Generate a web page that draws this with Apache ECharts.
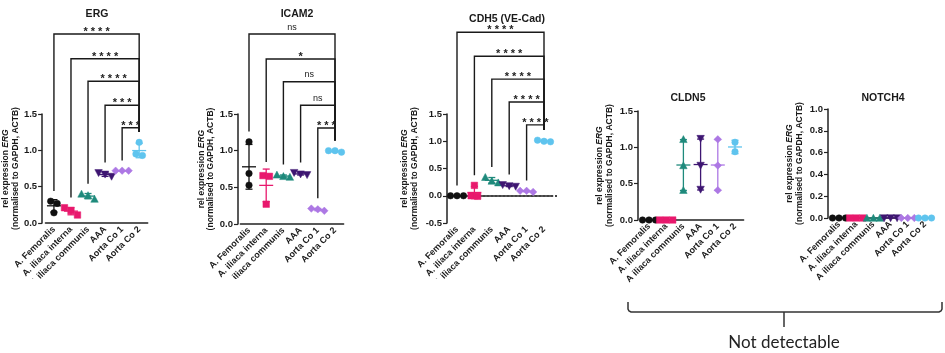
<!DOCTYPE html>
<html>
<head>
<meta charset="utf-8">
<script src="https://cdn.jsdelivr.net/npm/echarts@6/dist/echarts.min.js"></script>
<style>
  html, body { margin: 0; background: #fff; }
  #main { width: 945px; height: 353px; }
</style>
</head>
<body>
<div id="main"></div>
<script>
// groups on every x axis
const groups = ['A. Femoralis', 'A. iliaca interna', 'A iliaca communis', 'AAA', 'Aorta Co 1', 'Aorta Co 2'];

// replicate values per group (rel expression)
const ergValues = [[0.30, 0.27, 0.14], [0.21, 0.17, 0.11], [0.40, 0.38, 0.33], [0.69, 0.67, 0.64], [0.72, 0.72, 0.72], [1.11, 0.95, 0.93]];
const icam2Values = [[1.12, 0.69, 0.53], [0.66, 0.65, 0.27], [0.67, 0.65, 0.64], [0.70, 0.68, 0.67], [0.21, 0.20, 0.18], [1.00, 1.00, 0.98]];
const cdh5Values = [[0, 0, 0], [0.19, 0.0, -0.01], [0.34, 0.27, 0.24], [0.20, 0.18, 0.17], [0.09, 0.09, 0.07], [1.02, 1.00, 0.99]];
const cldn5Values = [[0, 0, 0], [0, 0, 0], [1.11, 0.75, 0.41], [1.12, 0.75, 0.42], [1.11, 0.75, 0.41], [1.07, 0.94]];
const notch4Values = [[0, 0, 0], [0, 0, 0], [0, 0, 0], [0, 0, 0], [0, 0, 0], [0, 0, 0]];

// comparisons against Aorta Co 2: [from group, bracket level, significance]
const ergStats = [[0, 2.60, '****'], [1, 2.26, '****'], [2, 1.95, '****'], [3, 1.62, '***'], [4, 1.31, '***']];
const icam2Stats = [[0, 2.59, 'ns'], [1, 2.25, '*'], [2, 1.94, 'ns'], [3, 1.62, 'ns'], [4, 1.31, '***']];
const cdh5Stats = [[0, 3.00, '****'], [1, 2.56, '****'], [2, 2.14, '****'], [3, 1.72, '****'], [4, 1.30, '****']];

const groupColors = ['#111111', '#e8196d', '#1f8a7c', '#3e1672', '#ad78e4', '#5fc4ee'];
const groupSymbols = ['circle', 'square', 'triangle', 'triangleDown', 'diamond', 'circle'];
const FONT = '"Liberation Sans", Arial, sans-serif';
const SYM = 6.5; // marker size
const GAP = 7;   // gap between data and bracket legs

const panels = [
  {title: 'ERG', values: ergValues, stats: ergStats, min: 0, max: 1.5, interval: 0.5,
   left: 43.3, width: 104.4, top: 114, height: 109, offset: 3.3, nameGap: 21, tx: 92, ty: 4},
  {title: 'ICAM2', values: icam2Values, stats: icam2Stats, min: 0, max: 1.5, interval: 0.5,
   left: 240.4, width: 103.2, top: 114, height: 110, offset: 2.4, nameGap: 20, tx: 292, ty: 4},
  {title: 'CDH5 (VE-Cad)', values: cdh5Values, stats: cdh5Stats, min: -0.5, max: 1.5, interval: 0.5,
   left: 448.3, width: 104.4, top: 114, height: 109, offset: 1.3, nameGap: 28, tx: 502, ty: 9, zeroLine: true},
  {title: 'CLDN5', values: cldn5Values, stats: [], min: 0, max: 1.5, interval: 0.5,
   left: 640.4, width: 103.2, top: 111, height: 109, offset: 2.4, nameGap: 24, tx: 683, ty: 88},
  {title: 'NOTCH4', values: notch4Values, stats: [], min: 0, max: 1.0, interval: 0.2,
   left: 830.4, width: 103.2, top: 109, height: 109, offset: 2.4, nameGap: 24, tx: 878, ty: 88}
];

function meanSd(vals) {
  const m = vals.reduce((a, b) => a + b, 0) / vals.length;
  const v = vals.length > 1 ? vals.reduce((a, b) => a + (b - m) * (b - m), 0) / (vals.length - 1) : 0;
  return {mean: m, sd: Math.sqrt(v)};
}

function marker(kind, x, y, color) {
  const r = SYM / 2;
  const style = {fill: color, stroke: color, lineWidth: 0.5};
  if (kind === 'circle') return {type: 'circle', shape: {cx: x, cy: y, r: r}, style};
  if (kind === 'square') return {type: 'rect', shape: {x: x - r, y: y - r, width: SYM, height: SYM}, style};
  let pts;
  if (kind === 'triangle') pts = [[x, y - r - 0.5], [x + r + 0.5, y + r], [x - r - 0.5, y + r]];
  else if (kind === 'triangleDown') pts = [[x - r - 0.5, y - r], [x + r + 0.5, y - r], [x, y + r + 0.5]];
  else pts = [[x, y - r - 0.5], [x + r + 0.5, y], [x, y + r + 0.5], [x - r - 0.5, y]];
  return {type: 'polygon', shape: {points: pts}, style};
}

// top of a group's marks in pixels (points or SD whisker)
function groupTop(api, values, i) {
  const s = meanSd(values[i]);
  const ys = values[i].map(v => api.coord([i, v])[1] - SYM / 2);
  ys.push(api.coord([i, s.mean + s.sd])[1]);
  return Math.min.apply(null, ys);
}

function dotRender(values, zeroLine) {
  return function (params, api) {
    const i = api.value(0);
    const vals = values[i];
    const cx = api.coord([i, 0])[0];
    const color = groupColors[i];
    const kids = [];
    if (zeroLine && i === 0) {
      // dotted line at y = 0 across the whole plot, drawn as small square dots
      const c0 = api.coord([0, 0]);
      const c5 = api.coord([groups.length - 1, 0]);
      const step = (c5[0] - c0[0]) / (groups.length - 1);
      const yy = Math.round(c0[1]) - 1;
      for (let x = Math.round(c0[0] - step * 0.6); x < c5[0] + step * 0.65; x += 4) {
        kids.push({type: 'rect', shape: {x: x, y: yy, width: 2, height: 2},
                   style: {fill: '#444', stroke: null}});
      }
    }
    const ys = vals.map(v => api.coord([i, v])[1]).sort((a, b) => a - b);
    // simple dot-plot spreading of overlapping points
    const clusters = [];
    let cur = [ys[0]];
    for (let k = 1; k < ys.length; k++) {
      if (ys[k] - cur[cur.length - 1] < SYM * 0.9) cur.push(ys[k]);
      else { clusters.push(cur); cur = [ys[k]]; }
    }
    clusters.push(cur);
    clusters.forEach(c => c.forEach((y, k) => {
      kids.push(marker(groupSymbols[i], cx + (k - (c.length - 1) / 2) * SYM, y, color));
    }));
    const s = meanSd(vals);
    const ym = api.coord([i, s.mean])[1];
    const yt = api.coord([i, s.mean + s.sd])[1];
    const yb = api.coord([i, s.mean - s.sd])[1];
    const ls = {stroke: color, lineWidth: 1.3};
    kids.push({type: 'line', shape: {x1: cx - 7, y1: ym, x2: cx + 7, y2: ym}, style: ls});
    if (s.sd > 0) {
      kids.push({type: 'line', shape: {x1: cx, y1: yt, x2: cx, y2: yb}, style: ls});
      kids.push({type: 'line', shape: {x1: cx - 3.5, y1: yt, x2: cx + 3.5, y2: yt}, style: ls});
      kids.push({type: 'line', shape: {x1: cx - 3.5, y1: yb, x2: cx + 3.5, y2: yb}, style: ls});
    }
    return {type: 'group', children: kids};
  };
}

function bracketRender(values, stats) {
  return function (params, api) {
    const from = api.value(0);
    const level = api.value(1);
    const label = stats[params.dataIndex][2];
    const to = groups.length - 1;
    const p1 = api.coord([from, level]);
    const x2 = api.coord([to, level])[0];
    const y = p1[1];
    const isStars = label.indexOf('*') >= 0;
    return {
      type: 'group',
      children: [
        {type: 'polyline', shape: {points: [[p1[0], groupTop(api, values, from) - GAP], [p1[0], y], [x2, y], [x2, groupTop(api, values, to) - GAP]]},
         style: {stroke: '#1a1a1a', lineWidth: 1.4, fill: null}},
        {type: 'text', x: (p1[0] + x2) / 2, y: isStars ? y - 2 : y - 7,
         style: {text: isStars ? label.split('').join(' ') : label, fill: '#222',
                 font: (isStars ? 'bold 11px ' : '9px ') + FONT, align: 'center', verticalAlign: 'middle'}}
      ]
    };
  };
}

const chart = echarts.init(document.getElementById('main'), null, {renderer: 'canvas'});

const option = {
  backgroundColor: '#fff',
  animation: false,
  title: panels.map(p => ({
    text: p.title, left: p.tx, top: p.ty, textAlign: 'center',
    textStyle: {fontFamily: FONT, fontSize: 10.5, fontWeight: 'bold', color: '#1a1a1a'}
  })),
  grid: panels.map(p => ({left: p.left, top: p.top, width: p.width, height: p.height, containLabel: false})),
  xAxis: panels.map((p, k) => ({
    type: 'category', gridIndex: k, data: groups,
    axisLine: {lineStyle: {color: '#222', width: 1.5}},
    axisTick: {alignWithLabel: true, length: 3, lineStyle: {color: '#222', width: 1.2}},
    axisLabel: {rotate: 45, interval: 0, margin: 5, fontSize: 9, fontWeight: 'bold', fontFamily: FONT, color: '#1a1a1a'},
    splitLine: {show: false}
  })),
  yAxis: panels.map((p, k) => ({
    type: 'value', gridIndex: k, min: p.min, max: p.max, interval: p.interval, offset: p.offset,
    name: '{a|rel expression }{i|ERG}\n{a|(normalised to GAPDH, ACTB)}',
    nameLocation: 'middle', nameRotate: 90, nameGap: p.nameGap,
    nameTextStyle: {
      fontFamily: FONT, fontSize: 8.5, fontWeight: 'bold', color: '#1a1a1a', lineHeight: 9.5,
      rich: {
        a: {fontFamily: FONT, fontSize: 8.5, fontWeight: 'bold', color: '#1a1a1a', lineHeight: 9.5},
        i: {fontFamily: FONT, fontSize: 8.5, fontWeight: 'bold', fontStyle: 'italic', color: '#1a1a1a', lineHeight: 9.5}
      }
    },
    axisLine: {show: true, lineStyle: {color: '#222', width: 1.5}},
    axisTick: {show: true, length: 4, lineStyle: {color: '#222', width: 1.2}},
    axisLabel: {margin: 5, fontSize: 9.5, fontWeight: 'bold', fontFamily: FONT, color: '#1a1a1a',
                formatter: v => v.toFixed(1)},
    splitLine: {show: false}
  })),
  series: [],
  graphic: [
    // panels 1-3 were cropped just below their labels
    {type: 'rect', z: 100, shape: {x: 0, y: 279, width: 565, height: 74}, style: {fill: '#fff'}},
    {type: 'polyline', z: 100,
     shape: {points: [[628, 302], [628, 309], [629, 311], [631, 312], [939, 312], [941, 311], [942, 309], [942, 302]]},
     style: {stroke: '#333', lineWidth: 1.5, fill: null}},
    {type: 'line', z: 100, shape: {x1: 784, y1: 312, x2: 784, y2: 327}, style: {stroke: '#333', lineWidth: 1.5}},
    {type: 'text', z: 100, x: 784, y: 343,
     style: {text: 'Not detectable', font: '17px Lato, "Open Sans", sans-serif', fill: '#222', align: 'center', verticalAlign: 'middle'}}
  ]
};

panels.forEach((p, k) => {
  option.series.push({
    type: 'custom', xAxisIndex: k, yAxisIndex: k,
    data: groups.map((g, i) => [i, meanSd(p.values[i]).mean]),
    renderItem: dotRender(p.values, p.zeroLine), clip: false, z: 3
  });
  if (p.stats.length) {
    option.series.push({
      type: 'custom', xAxisIndex: k, yAxisIndex: k,
      data: p.stats.map(s => [s[0], s[1]]),
      renderItem: bracketRender(p.values, p.stats), clip: false, z: 2
    });
  }
});

chart.setOption(option);
</script>
</body>
</html>
